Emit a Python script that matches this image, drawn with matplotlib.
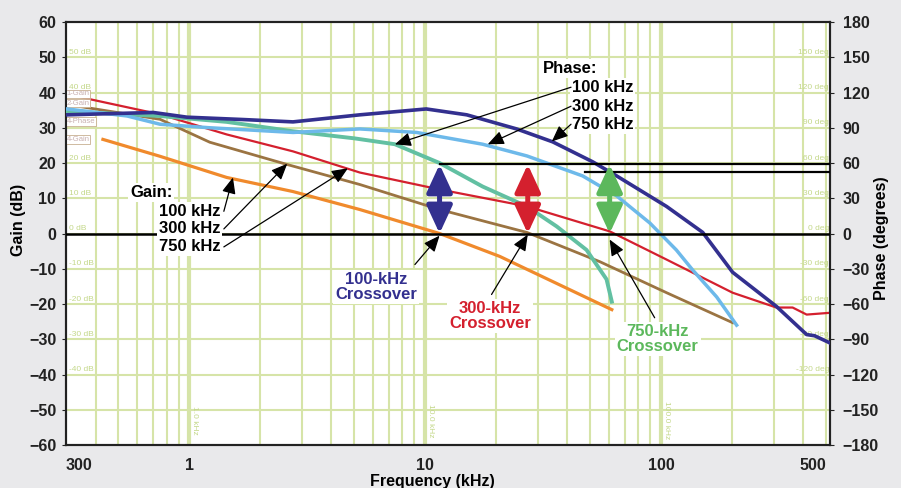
import matplotlib
matplotlib.use("Agg")
import matplotlib.pyplot as plt
from matplotlib.ticker import FixedLocator, NullFormatter

plt.rcParams['font.family'] = ['Liberation Sans', 'DejaVu Sans']
plt.rcParams['font.weight'] = 'bold'

# ---- data (frequency in kHz, gain in dB, phase in degrees) ----
f_gain100 = [0.43, 0.751, 1.44, 2.75, 5.28, 11.5, 20.7, 61.8]
gain100 = [26.7, 21.9, 15.9, 11.9, 6.8, 0.0, -6.5, -21.6]

f_gain300 = [0.303, 0.751, 1.22, 2.59, 5.28, 11.5, 27.0, 55.0, 105.5, 201]
gain300 = [36.6, 32.4, 25.9, 19.6, 13.9, 6.8, 0.3, -8.0, -16.8, -25.3]

f_gain750 = [0.303, 0.751, 1.44, 2.75, 5.28, 11.5, 27.0, 60.6, 105.5, 201,
             308, 361, 414, 518]
gain750 = [39.5, 33.8, 28.1, 23.3, 17.3, 12.5, 7.7, 0.6, -7.4, -16.8,
           -21.0, -21.0, -23.0, -22.5]

f_ph100 = [0.303, 0.751, 1.44, 2.75, 5.0, 7.43, 11.5, 17.5, 27.0, 36.1,
           48.3, 58.7, 61.8]
phase100 = [104, 100, 95, 87, 81, 76, 60, 40, 23, 6, -14, -39, -58]

f_ph300 = [0.303, 0.545, 0.751, 1.22, 2.75, 5.28, 9.2, 17.5, 27.0, 46.5,
           64.8, 89.5, 116, 136, 172, 209]
phase300 = [106, 100, 93, 90, 86, 89, 86, 76, 66, 49, 32, 9, -14, -31, -54, -78]

f_ph750 = [0.303, 0.703, 0.977, 1.69, 2.75, 5.28, 10.1, 15.0, 24.4, 34.7,
           51.3, 64.8, 105.5, 150, 201, 308, 414, 447, 518]
phase750 = [101, 103, 99, 97, 95, 101, 106, 101, 89, 78, 61, 49, 23, 1,
            -33, -62, -86, -87, -93]

crossover_f = [11.5, 27.2, 60.5]          # kHz, crossover frequencies
margin_gain = 19.6                        # height of margin arrows (dB scale)
pm_lines = [(11.5, 59), (47.4, 52)]       # (start kHz, phase deg)

xtick_vals = [0.3, 1, 10, 100, 500]
xtick_labels = ['300', '1', '10', '100', '500']

c_orange = '#f08a2c'
c_brown = '#9b7442'
c_red = '#d4202e'
c_teal = '#62c0a2'
c_lblue = '#6db9ea'
c_navy = '#33308f'
c_green = '#5cb85c'
c_grid = '#d6e4a8'
c_faint = '#c4d88a'

fig = plt.figure(figsize=(9.01, 4.88), dpi=100, facecolor='#e9e9eb')
ax = fig.add_axes([0.0733, 0.0881, 0.8479, 0.8668])
ax.set_facecolor('white')
ax.set_xscale('log')
ax.set_xlim(0.3, 520)
ax.set_ylim(-60, 60)

# grid
for m in [2, 3, 4, 5, 6, 7, 8, 9]:
    for d in [0.1, 1, 10, 100]:
        v = m * d
        if 0.3 < v < 520:
            ax.axvline(v, color=c_grid, lw=1.5, zorder=0)
for d in [1, 10, 100]:
    ax.axvline(d, color=c_grid, lw=3.0, zorder=0)
for g in range(-50, 60, 10):
    ax.axhline(g, color=c_grid, lw=1.5, zorder=0)

# faint in-plot scale labels (sit just above their grid lines);
# the 30 dB one is hidden behind the legend boxes in the original
for g in range(-40, 60, 10):
    if g == 30:
        continue
    ax.text(0.31, g + 0.4, f'{g} dB', color=c_faint, fontsize=6, va='bottom',
            ha='left', fontweight='normal', zorder=1)
for p in [150, 120, 90, 60, 30, 0, -30, -60, -90, -120]:
    ax.text(515, p / 3 + 0.4, f'{p} deg', color=c_faint, fontsize=6, va='bottom',
            ha='right', fontweight='normal', zorder=1)
for d, lab in [(1, '1.0 kHz'), (10, '10.0 kHz'), (100, '100.0 kHz')]:
    ax.text(d * 1.02, -53, lab, color=c_faint, fontsize=6, rotation=270,
            va='center', ha='left', fontweight='normal', zorder=1)

# gain curves
ax.plot(f_gain750, gain750, color=c_red, lw=1.6, zorder=3)
ax.plot(f_gain300, gain300, color=c_brown, lw=2.0, zorder=3)
ax.plot(f_gain100, gain100, color=c_orange, lw=2.3, zorder=3)

# faint legend boxes
for lab, g in [('1-Gain', 39.6), ('2-Gain', 37.0), ('4-Phase', 31.8), ('4-Gain', 26.7)]:
    ax.text(0.302, g, lab, fontsize=5.5, color='#c9b0b0', fontweight='normal',
            va='center', ha='left', zorder=4,
            bbox=dict(boxstyle='square,pad=0.08', fc='white', ec='#c8b090', lw=0.6))

# phase axis
ax2 = ax.twinx()
ax2.set_ylim(-180, 180)
ax2.plot(f_ph100, phase100, color=c_teal, lw=2.8, zorder=3)
ax2.plot(f_ph300, phase300, color=c_lblue, lw=2.5, zorder=3)
ax2.plot(f_ph750, phase750, color=c_navy, lw=2.6, zorder=3)

# reference lines
ax2.plot([0.3, 520], [0, 0], color='black', lw=1.8, zorder=4)
for fs, ph in pm_lines:
    ax2.plot([fs, 520], [ph, ph], color='black', lw=1.6, zorder=4)

# margin double arrows
for fc, col in zip(crossover_f, [c_navy, c_red, c_green]):
    ax2.annotate('', xy=(fc, 0), xytext=(fc, margin_gain * 3),
                 arrowprops=dict(arrowstyle='<|-|>,head_length=1.3,head_width=0.6',
                                 color=col, lw=3.6, mutation_scale=13,
                                 shrinkA=0, shrinkB=0), zorder=6)

tbox = dict(boxstyle='square,pad=0.12', fc='white', ec='none')
arrow_kw = dict(arrowstyle='-|>,head_length=0.7,head_width=0.3', color='black',
                lw=0.9, mutation_scale=14, shrinkA=0, shrinkB=0)
fs_txt = 12

# gain labels
ax2.text(0.56, 11.6 * 3, 'Gain:', fontsize=fs_txt, ha='left', va='center', zorder=7, bbox=tbox)
gain_lbl = [('100 kHz', 6.3, (1.53, 15.9)), ('300 kHz', 1.3, (2.6, 19.8)),
            ('750 kHz', -3.8, (4.7, 18.5))]
for lab, gy, tip in gain_lbl:
    ax2.text(0.74, gy * 3, lab, fontsize=fs_txt, ha='left', va='center', zorder=7, bbox=tbox)
    ax2.annotate('', xy=(tip[0], tip[1] * 3), xytext=(1.4, gy * 3),
                 arrowprops=arrow_kw, zorder=8)

# phase labels
ax2.text(31.5, 46.9 * 3, 'Phase:', fontsize=fs_txt, ha='left', va='center', zorder=7, bbox=tbox)
ph_lbl = [('100 kHz', 41.5, (7.43, 25.3)), ('300 kHz', 36.1, (18.4, 25.3)),
          ('750 kHz', 31.0, (34.4, 26.1))]
for lab, gy, tip in ph_lbl:
    ax2.text(41.8, gy * 3, lab, fontsize=fs_txt, ha='left', va='center', zorder=7, bbox=tbox)
    ax2.annotate('', xy=(tip[0], tip[1] * 3), xytext=(41.5, gy * 3),
                 arrowprops=arrow_kw, zorder=8)

# crossover labels
cross_lbl = [('100-kHz\nCrossover', c_navy, (6.2, -15.2), (9.04, -8.8), (11.5, -0.6)),
             ('300-kHz\nCrossover', c_red, (18.8, -23.4), (19.1, -17.3), (27.2, -0.3)),
             ('750-kHz\nCrossover', c_green, (96.8, -30.0), (93.9, -23.9), (60.5, -1.7))]
for lab, col, pos, tail, tip in cross_lbl:
    ax2.text(pos[0], pos[1] * 3, lab, color=col, fontsize=fs_txt, ha='center',
             va='center', linespacing=1.0, zorder=7, bbox=tbox)
    ax2.annotate('', xy=(tip[0], tip[1] * 3), xytext=(tail[0], tail[1] * 3),
                 arrowprops=arrow_kw, zorder=8)

# ticks and labels
ax.xaxis.set_major_locator(FixedLocator(xtick_vals))
ax.set_xticklabels(xtick_labels)
ax.xaxis.set_minor_formatter(NullFormatter())
ax.tick_params(axis='x', which='both', length=0, labelsize=11.5, pad=9, colors='#222222')
xl = ax.get_xticklabels()
xl[0].set_ha('left')
xl[-1].set_ha('right')
ax.set_yticks(range(-60, 61, 10))
ax.tick_params(axis='y', length=3, labelsize=11.5, pad=4, colors='#222222')
ax2.set_yticks(range(-180, 181, 30))
ax2.tick_params(axis='y', length=3, labelsize=11.5, pad=6, colors='#222222')

for a in (ax, ax2):
    for s in a.spines.values():
        s.set_color('#222222')
        s.set_linewidth(1.5)

ax.set_xlabel('Frequency (kHz)', fontsize=11.5, fontweight='bold')
ax.xaxis.set_label_coords(0.479, -0.068)
ax.set_ylabel('Gain (dB)', fontsize=11.5, fontweight='bold')
ax.yaxis.set_label_coords(-0.052, 0.532)
ax2.set_ylabel('Phase (degrees)', fontsize=11.5, fontweight='bold')
ax2.yaxis.set_label_coords(1.057, 0.489)

fig.savefig('out.png', dpi=100, facecolor=fig.get_facecolor())
